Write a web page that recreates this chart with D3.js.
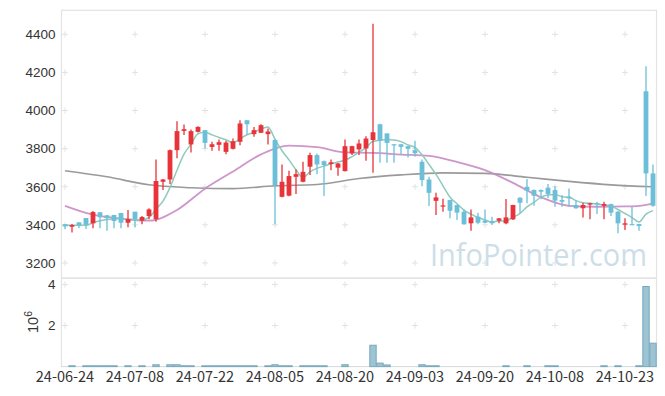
<!DOCTYPE html>
<html>
<head>
<meta charset="utf-8">
<script src="https://cdn.jsdelivr.net/npm/d3@7"></script>
<style>
  html, body { margin: 0; padding: 0; background: #ffffff; }
  svg { display: block; }
</style>
</head>
<body>
<div id="chart"></div>
<script>
// Podaci: dnevne svijece (indeks trgovackog dana 0..84)
const openP  = [3403,3390,3413,3436,3408,3466,3450,3452,3462,3411,3469,3422,3446,3430,3626,3638,3792,3893,3822,3888,
                3897,3809,3820,3783,3799,3836,3949,3876,3883,3876,3845,3547,3553,3652,3626,3705,3766,3734,3719,3700,
                3682,3775,3796,3801,3845,3928,3880,3823,3823,3813,3792,3731,3638,3526,3497,3530,3504,3469,3408,3443,
                3422,3420,3422,3408,3429,3542,3600,3583,3583,3595,3583,3530,3548,3504,3487,3506,3513,3500,3509,3469,
                3401,3404,3404,4101,3670];
const highP  = [3404,3405,3414,3436,3472,3467,3452,3452,3462,3478,3469,3446,3487,3743,3640,3795,3944,3927,3900,3918,
                3897,3836,3848,3841,3853,3949,3949,3914,3928,3906,3850,3717,3684,3691,3731,3778,3775,3738,3743,3724,
                3848,3815,3848,3865,4456,3930,3880,3823,3823,3815,3841,3743,3652,3568,3537,3532,3506,3481,3481,3464,
                3481,3443,3436,3535,3506,3545,3640,3585,3585,3614,3603,3556,3591,3526,3516,3516,3521,3521,3511,3472,
                3434,3495,3406,4232,3717];
const lowP   = [3377,3360,3382,3378,3382,3382,3369,3382,3382,3387,3387,3403,3429,3416,3583,3614,3749,3871,3780,3885,
                3801,3789,3789,3770,3795,3818,3874,3862,3883,3822,3403,3545,3550,3562,3624,3661,3665,3551,3687,3657,
                3680,3766,3766,3736,3673,3726,3726,3726,3766,3754,3757,3603,3499,3452,3469,3434,3425,3400,3369,3403,
                3408,3399,3408,3403,3425,3464,3513,3500,3534,3539,3495,3495,3495,3485,3439,3429,3457,3429,3446,3356,
                3373,3399,3369,3551,3495];
const closeP = [3392,3399,3399,3400,3467,3440,3435,3420,3411,3430,3430,3441,3481,3630,3638,3792,3892,3902,3892,3914,
                3830,3823,3834,3832,3839,3932,3928,3897,3923,3890,3609,3626,3656,3666,3678,3766,3717,3714,3728,3722,
                3813,3813,3827,3853,3886,3841,3830,3818,3809,3799,3776,3635,3568,3544,3502,3474,3464,3403,3439,3411,
                3411,3408,3434,3439,3504,3516,3579,3553,3574,3562,3527,3521,3539,3487,3504,3513,3508,3509,3464,3408,
                3408,3401,3394,3670,3500];
// zadnje 4 cijene prije prikazanog razdoblja (za MA5)
const prevCloses = [3405, 3400, 3400, 3398];

// Volumen (komada)
const volume = [8000,40000,8000,40000,40000,40000,40000,40000,8000,40000,8000,40000,8000,90000,8000,90000,90000,40000,40000,8000,
                40000,40000,40000,40000,40000,40000,40000,40000,8000,40000,90000,40000,40000,8000,40000,40000,40000,40000,8000,8000,
                90000,8000,8000,8000,1040000,170000,80000,8000,8000,8000,8000,90000,40000,40000,8000,8000,8000,8000,8000,8000,
                8000,8000,8000,40000,8000,8000,40000,8000,8000,40000,40000,8000,8000,8000,8000,8000,8000,40000,8000,40000,
                8000,8000,40000,3900000,1140000];

// MA20 i MA60 ocitani sa slike (indeks, vrijednost)
const ma20Idx = [0, 4, 8, 12, 16, 20, 24, 28, 32, 36, 40, 44, 48, 52, 56, 60, 64, 68, 72, 76, 80, 82, 84];
const ma20    = [3500, 3453, 3432, 3422, 3478, 3590, 3680, 3770, 3816, 3808, 3780, 3778, 3769, 3762, 3730, 3687, 3620, 3545, 3500, 3495, 3497, 3500, 3513];
const ma60Idx = [0, 6, 12, 18, 24, 30, 36, 42, 48, 54, 60, 66, 72, 78, 84];
const ma60    = [3684, 3652, 3610, 3595, 3590, 3605, 3612, 3643, 3662, 3673, 3670, 3650, 3628, 3610, 3600];

// Oznake osi
const dateLabels = ["24-06-24", "24-07-08", "24-07-22", "24-08-05", "24-08-20", "24-09-03", "24-09-20", "24-10-08", "24-10-23"];
const dateIdx    = [0, 10, 20, 30, 40, 50, 60, 70, 80];
const priceTicks = [3200, 3400, 3600, 3800, 4000, 4200, 4400];
const volTicks   = [2000000, 4000000];

// Dimenzije
const W = 665, H = 396;
const left = 61.5, right = 656.5;
const mainTop = 10.3, mainBottom = 278, volTop = 278.3, volBottom = 366.6;

const svg = d3.select("#chart").append("svg")
    .attr("width", W)
    .attr("height", H);

// Skale
const xScale = d3.scaleLinear().domain([-0.5, 84.5]).range([left, right]);
const yScale = d3.scaleLinear().domain([3121, 4526]).range([mainBottom, mainTop]);
const vScale = d3.scaleLinear().domain([0, 4300000]).range([volBottom, volTop]);
const step = xScale(1) - xScale(0);

// Okviri panela
[[mainTop, mainBottom], [volTop, volBottom]].forEach(([t, b]) => {
    svg.append("rect")
        .attr("x", left).attr("y", t)
        .attr("width", right - left).attr("height", b - t)
        .attr("fill", "none")
        .attr("stroke", "#e3e3e3")
        .attr("stroke-width", 1.2);
});

// Mreza - mali krizici
function cross(g, x, y) {
    g.append("path")
        .attr("d", `M${x - 3},${y}H${x + 3}M${x},${y - 3}V${y + 3}`)
        .attr("stroke", "#e2e2e2")
        .attr("stroke-width", 1);
}
const grid = svg.append("g");
dateIdx.forEach(i => {
    priceTicks.forEach(p => cross(grid, xScale(i), yScale(p)));
    volTicks.forEach(v => cross(grid, xScale(i), vScale(v)));
});

// Vodeni zig
svg.append("text")
    .attr("x", 430).attr("y", 266)
    .attr("textLength", 217)
    .attr("lengthAdjust", "spacingAndGlyphs")
    .style("font-family", "'Open Sans', sans-serif")
    .style("font-size", "31px")
    .style("fill", "#cddee8")
    .text("InfoPointer.com");

// Y os (cijena)
svg.append("g").selectAll("text")
    .data(priceTicks)
    .enter()
    .append("text")
    .attr("x", 55.5)
    .attr("y", d => yScale(d))
    .attr("dy", "0.36em")
    .attr("text-anchor", "end")
    .style("font-family", "'Liberation Sans', Arial, sans-serif")
    .style("font-size", "13.5px")
    .style("fill", "#333")
    .text(d => d);

// Y os (volumen)
svg.append("g").selectAll("text")
    .data(volTicks)
    .enter()
    .append("text")
    .attr("x", 55.5)
    .attr("y", d => vScale(d))
    .attr("dy", "0.36em")
    .attr("text-anchor", "end")
    .style("font-family", "'Liberation Sans', Arial, sans-serif")
    .style("font-size", "13.5px")
    .style("fill", "#333")
    .text(d => d / 1e6);

const expLabel = svg.append("text")
    .attr("transform", "translate(37.5, 322) rotate(-90)")
    .attr("text-anchor", "middle")
    .style("font-family", "'Liberation Sans', Arial, sans-serif")
    .style("font-size", "14.5px")
    .style("fill", "#333");
expLabel.append("tspan").text("10");
expLabel.append("tspan").attr("dy", "-0.55em").style("font-size", "10.5px").text("6");

// X os - datumi
svg.append("g").selectAll("text")
    .data(dateIdx)
    .enter()
    .append("text")
    .attr("x", d => xScale(d))
    .attr("y", 382)
    .attr("text-anchor", "middle")
    .style("font-family", "'Noto Sans CJK KR', sans-serif")
    .style("font-size", "14.5px")
    .style("fill", "#333")
    .text((d, i) => dateLabels[i]);

// Volumen stupci
svg.append("g").selectAll("rect")
    .data(volume)
    .enter()
    .append("rect")
    .attr("x", (d, i) => xScale(i) - step / 2 + 0.3)
    .attr("y", d => vScale(d))
    .attr("width", step - 0.6)
    .attr("height", d => volBottom - vScale(d))
    .attr("fill", "#9cc4d3")
    .attr("stroke", d => (volBottom - vScale(d)) > 0.5 ? "#7aa9bc" : "none")
    .attr("stroke-width", 1);

// Pomicni prosjeci
const allCloses = prevCloses.concat(closeP);
const ma5 = closeP.map((c, i) => d3.mean(allCloses.slice(i, i + 5)));

const line = d3.line()
    .x(d => xScale(d[0]))
    .y(d => yScale(d[1]))
    .curve(d3.curveMonotoneX);

svg.append("path")
    .datum(ma60Idx.map((d, i) => [d, ma60[i]]))
    .attr("d", line)
    .attr("fill", "none")
    .attr("stroke", "#8f8f8f")
    .attr("stroke-width", 1.6)
    .attr("opacity", 0.9);

svg.append("path")
    .datum(ma20Idx.map((d, i) => [d, ma20[i]]))
    .attr("d", line)
    .attr("fill", "none")
    .attr("stroke", "#c98bc5")
    .attr("stroke-width", 1.8)
    .attr("opacity", 0.9);

svg.append("path")
    .datum(ma5.map((d, i) => [i, d]))
    .attr("d", line)
    .attr("fill", "none")
    .attr("stroke", "#8ccbbd")
    .attr("stroke-width", 1.5);

// Svijece
const candles = svg.append("g").selectAll(".candle")
    .data(closeP)
    .enter()
    .append("g")
    .attr("class", "candle");

const candleColor = i => closeP[i] >= openP[i] ? "#e8333a" : "#6cbfd8";

candles.append("line")
    .attr("x1", (d, i) => xScale(i))
    .attr("x2", (d, i) => xScale(i))
    .attr("y1", (d, i) => yScale(highP[i]))
    .attr("y2", (d, i) => yScale(lowP[i]))
    .attr("stroke", (d, i) => candleColor(i))
    .attr("stroke-width", 1.3);

candles.append("rect")
    .attr("x", (d, i) => xScale(i) - 2.4)
    .attr("width", 4.8)
    .attr("y", (d, i) => yScale(Math.max(openP[i], closeP[i])))
    .attr("height", (d, i) => Math.max(1.2, Math.abs(yScale(openP[i]) - yScale(closeP[i]))))
    .attr("fill", (d, i) => candleColor(i));
</script>
</body>
</html>
